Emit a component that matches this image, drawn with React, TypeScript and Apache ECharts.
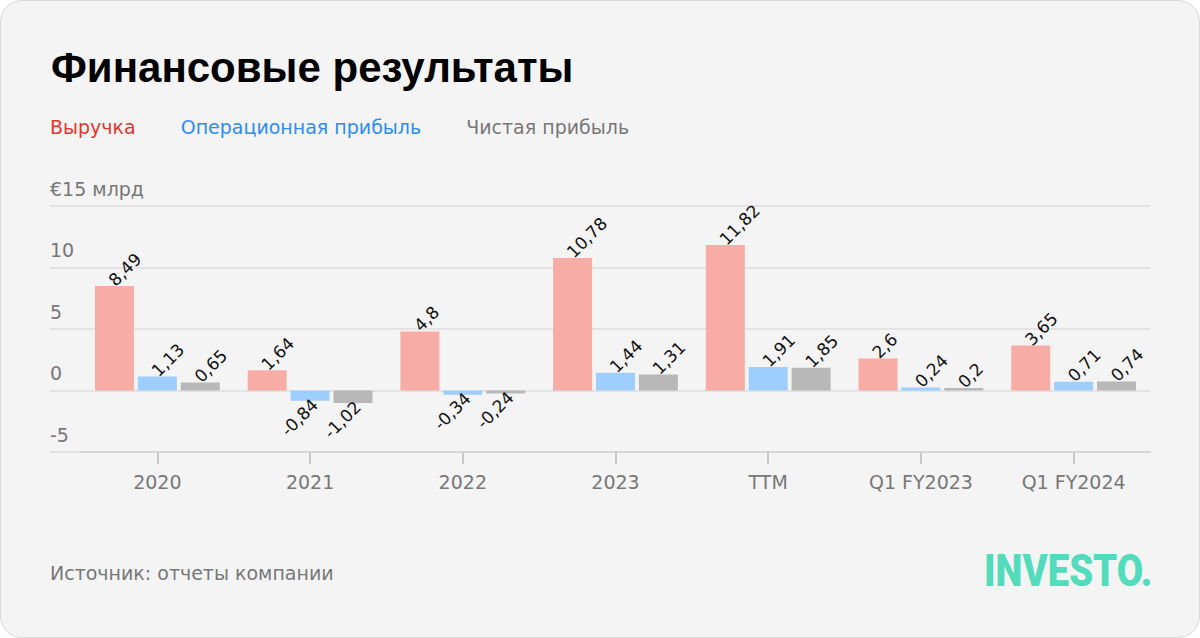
import React, { useEffect, useRef } from "react";
import * as echarts from "echarts";

const categories = ["2020", "2021", "2022", "2023", "TTM", "Q1 FY2023", "Q1 FY2024"];
const revenue = [8.49, 1.64, 4.8, 10.78, 11.82, 2.6, 3.65];
const operatingProfit = [1.13, -0.84, -0.34, 1.44, 1.91, 0.24, 0.71];
const netProfit = [0.65, -1.02, -0.24, 1.31, 1.85, 0.2, 0.74];
const seriesNames = ["Выручка", "Операционная прибыль", "Чистая прибыль"];
const barColors = ["#f7aca6", "#9dcefd", "#b8b8b8"];
const legendColors = ["#e8342a", "#2b8df6", "#777777"];
const yMin = -5;
const yMax = 15;
const yStep = 5;

const TITLE_FONT = "'Liberation Sans', Arial, sans-serif";
const FONT = "'DejaVu Sans', sans-serif";

const fmt = (v: number) => String(v).replace(".", ",");

const posLabel = {
  show: true,
  position: "top",
  distance: 6,
  offset: [-4, 0],
  rotate: 45,
  align: "left",
  verticalAlign: "middle",
  fontSize: 17,
  color: "#111",
  fontFamily: FONT,
};
const negLabel = {
  ...posLabel,
  position: "bottom",
  offset: [7, 0],
  align: "right",
};

export default function App() {
  const ref = useRef<HTMLDivElement>(null);
  useEffect(() => {
    if (!ref.current) return;
    const chart = echarts.init(ref.current, null, { renderer: "svg" });
    const mk = (vals: number[], i: number) => ({
      name: seriesNames[i],
      type: "bar",
      xAxisIndex: 1,
      yAxisIndex: 1,
      barWidth: 39,
      barGap: "10%",
      itemStyle: { color: barColors[i] },
      data: vals.map((v) => ({
        value: v,
        label: { ...(v < 0 ? negLabel : posLabel), formatter: () => fmt(v) },
      })),
    });
    chart.setOption({
      animation: false,
      backgroundColor: "transparent",
      title: {
        text: "Финансовые результаты",
        left: 46,
        top: 41,
        textStyle: { fontSize: 42, fontWeight: "bold", color: "#000", fontFamily: TITLE_FONT },
      },
      legend: {
        left: 40,
        top: 112,
        icon: "none",
        itemWidth: 0,
        itemGap: 40,
        selectedMode: false,
        data: seriesNames.map((n, i) => ({
          name: n,
          textStyle: { color: legendColors[i], fontSize: 19, fontFamily: FONT },
        })),
      },
      grid: [
        { left: 50, right: 50, top: 206, bottom: 186 },
        { left: 81, right: 50, top: 206, bottom: 186 },
      ],
      xAxis: [
        { gridIndex: 0, type: "category", data: categories, show: false },
        {
          gridIndex: 1,
          type: "category",
          data: categories,
          axisLine: { show: true, onZero: false, lineStyle: { color: "#d6d6d6", width: 2 } },
          axisTick: {
            show: true,
            interval: 0,
            alignWithLabel: true,
            length: 12,
            lineStyle: { color: "#c8c8c8", width: 2 },
          },
          axisLabel: { color: "#777", fontSize: 19, margin: 20, fontFamily: FONT },
        },
      ],
      yAxis: [
        {
          gridIndex: 0,
          type: "value",
          min: yMin,
          max: yMax,
          interval: yStep,
          axisLine: { show: false },
          axisTick: { show: false },
          splitLine: { lineStyle: { color: "#e3e3e3", width: 2 } },
          axisLabel: {
            inside: true,
            margin: 0,
            align: "left",
            verticalAlign: "bottom",
            padding: [0, 0, 8, 0],
            color: "#777",
            fontSize: 19,
            fontFamily: FONT,
            formatter: (v: number) => (v === yMax ? "€" + v + " млрд" : String(v)),
          },
        },
        {
          gridIndex: 1,
          type: "value",
          min: yMin,
          max: yMax,
          interval: yStep,
          show: false,
          splitLine: { show: false },
        },
      ],
      graphic: [
        {
          type: "text",
          left: 50,
          top: 563,
          style: { text: "Источник: отчеты компании", fill: "#777", fontSize: 19, fontFamily: FONT },
        },
        {
          type: "text",
          x: 984,
          y: 549,
          scaleX: 0.87,
          style: {
            text: "INVESTO.",
            fill: "#52dcbc",
            fontSize: 44,
            fontWeight: 900,
            fontFamily: "Roboto, sans-serif",
          },
        },
      ],
      series: [mk(revenue, 0), mk(operatingProfit, 1), mk(netProfit, 2)],
    });
    return () => chart.dispose();
  }, []);
  return (
    <div
      style={{
        position: "fixed",
        left: 0,
        top: 0,
        width: 1200,
        height: 638,
        boxSizing: "border-box",
        background: "#f4f4f4",
        border: "1px solid #d8d8d8",
        borderRadius: 22,
        overflow: "hidden",
      }}
    >
      <div ref={ref} style={{ position: "absolute", left: -1, top: -1, width: 1200, height: 638 }} />
    </div>
  );
}
